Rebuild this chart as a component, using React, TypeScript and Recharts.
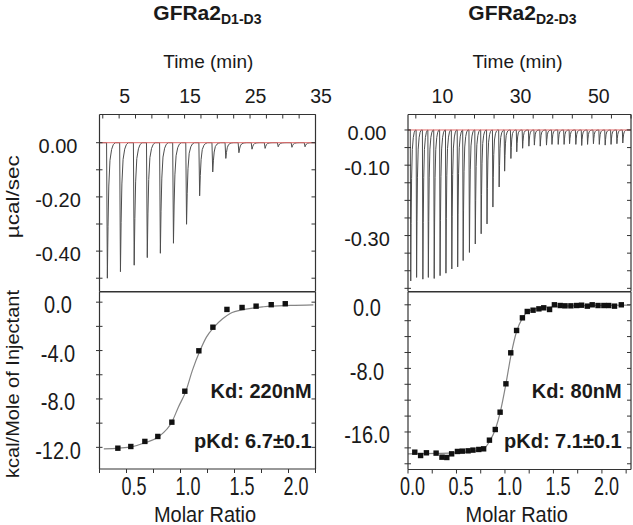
import React from 'react';
import { LineChart, ComposedChart, Line, Scatter, XAxis, YAxis } from 'recharts';

const FONT = '"Liberation Sans", Arial, Helvetica, sans-serif';
const AXIS = '#333';
const INK = '#1a1a1a';

// ---- raw thermograms (time of each spike tip, min / spike depth, µcal/sec)
const leftInjTime = [3.2, 5.2, 7.3, 9.3, 11.3, 13.3, 15.3, 17.3, 19.3, 21.3, 23.3, 25.3, 27.3, 29.3, 31.4, 33.4];
const leftPeak = [-0.5, -0.476, -0.452, -0.424, -0.408, -0.371, -0.301, -0.196, -0.108, -0.058, -0.037, -0.024, -0.021, -0.015, -0.017, -0.015];

const rightInjTime = [
  3.7, 5.2, 6.8, 8.2, 9.7, 11.2, 12.7, 14.2, 15.7, 17.1, 18.7, 20.2, 21.7, 23.2, 24.7, 26.3, 27.7, 29.3, 30.8,
  32.3, 33.9, 35.3, 36.8, 38.4, 39.8, 41.4, 42.9, 44.3, 45.9, 47.4, 48.9, 50.4, 51.9, 53.4, 54.9, 56.4, 57.9,
];
const rightPeak = [
  -0.429, -0.419, -0.424, -0.419, -0.422, -0.414, -0.407, -0.395, -0.389, -0.371, -0.348, -0.324, -0.295,
  -0.267, -0.219, -0.162, -0.117, -0.081, -0.062, -0.052, -0.046, -0.043, -0.046, -0.043, -0.041, -0.041,
  -0.041, -0.039, -0.041, -0.044, -0.041, -0.039, -0.041, -0.043, -0.041, -0.039, -0.037,
];

// shape of one spike: [min after tip, share of tip depth]
const spikeProfile = [[-0.12, 0], [0, 1], [0.1, 0.62], [0.22, 0.32], [0.4, 0.13], [0.65, 0.05], [0.9, 0.015], [1.2, 0]];

// ---- integrated heats (molar ratio / kcal per mole of injectant)
const leftRatio = [0.42, 0.54, 0.67, 0.79, 0.92, 1.04, 1.17, 1.3, 1.43, 1.57, 1.7, 1.84, 1.97];
const leftHeat = [-12.07, -11.93, -11.51, -11.1, -9.92, -7.36, -4.02, -2.07, -0.6, -0.44, -0.33, -0.21, -0.13];
const leftFitRatio = [0.29, 0.43, 0.55, 0.67, 0.8, 0.92, 0.98, 1.05, 1.11, 1.18, 1.24, 1.31, 1.39, 1.46, 1.59, 1.77, 2.02, 2.23];
const leftFitHeat = [-12.12, -12.06, -11.95, -11.62, -11.1, -9.91, -8.68, -7.35, -5.64, -4.02, -2.89, -2.06, -1.37, -0.93, -0.6, -0.38, -0.27, -0.22];

const rightRatio = [
  0.07, 0.13, 0.19, 0.29, 0.35, 0.4, 0.45, 0.51, 0.56, 0.62, 0.67, 0.73, 0.78, 0.84, 0.9, 0.95, 1.01, 1.06, 1.12,
  1.18, 1.23, 1.29, 1.35, 1.4, 1.46, 1.51, 1.57, 1.62, 1.68, 1.74, 1.79, 1.85, 1.9, 1.96, 2.02, 2.07, 2.13, 2.2,
];
const rightHeat = [
  -18.54, -18.96, -18.62, -18.66, -19.17, -19.21, -18.75, -18.45, -18.41, -18.37, -18.28, -18.2, -18.12, -17.03,
  -15.69, -13.51, -9.94, -6.04, -3.23, -1.64, -0.84, -0.68, -0.51, -0.38, -0.59, 0, -0.09, -0.13, -0.13, -0.09,
  -0.05, -0.17, 0, -0.09, -0.09, -0.09, -0.17, 0,
];
const rightFitRatio = [0, 0.3, 0.6, 0.78, 0.84, 0.9, 0.955, 1.01, 1.065, 1.12, 1.18, 1.24, 1.36, 1.57, 1.84, 2.29];
const rightFitHeat = [-18.75, -18.7, -18.54, -18.12, -17.2, -15.69, -13.3, -9.94, -6.17, -3.36, -1.68, -0.84, -0.38, -0.17, -0.09, -0.05];

// ---- axes
const leftTimeDomain = [2, 35];
const leftTimeTicks = [2.5, 5, 7.5, 10, 12.5, 15, 17.5, 20, 22.5, 25, 27.5, 30, 32.5, 35];
const leftTimeLabels = [5, 15, 25, 35];
const rightTimeDomain = [3, 60];
const rightTimeTicks = [5, 10, 15, 20, 25, 30, 35, 40, 45, 50, 55, 60];
const rightTimeLabels = [10, 30, 50];

const leftPowerDomain = [-0.549, 0.104];
const leftPowerTicks = [0, -0.1, -0.2, -0.3, -0.4, -0.5];
const leftPowerLabels = [0, -0.2, -0.4];
const rightPowerDomain = [-0.459, 0.044];
const rightPowerTicks = [0, -0.05, -0.1, -0.15, -0.2, -0.25, -0.3, -0.35, -0.4, -0.45];
const rightPowerLabels = [0, -0.1, -0.3];

const leftHeatDomain = [-13.79, 0.84];
const leftHeatTicks = [0, -2, -4, -6, -8, -10, -12];
const leftHeatLabels = [0, -4, -8, -12];
const rightHeatDomain = [-20.72, 1.61];
const rightHeatTicks = [0, -2, -4, -6, -8, -10, -12, -14, -16, -18, -20];
const rightHeatLabels = [0, -8, -16];

const leftRatioDomain = [0.25, 2.25];
const leftRatioTicks = [0.25, 0.5, 0.75, 1, 1.25, 1.5, 1.75, 2, 2.25];
const leftRatioLabels = [0.5, 1, 1.5, 2];
const rightRatioDomain = [0, 2.3];
const rightRatioTicks = [0, 0.25, 0.5, 0.75, 1, 1.25, 1.5, 1.75, 2, 2.25];
const rightRatioLabels = [0, 0.5, 1, 1.5, 2];

function buildTrace(times: number[], peaks: number[], domain: number[]) {
  const pts = [{ t: domain[0], v: 0 }];
  times.forEach((t0, i) => {
    spikeProfile.forEach(([dt, f]) => pts.push({ t: t0 + dt, v: peaks[i] * f }));
  });
  pts.push({ t: domain[1], v: 0 });
  return pts;
}

const zip = (xs: number[], ys: number[]) => xs.map((x, i) => ({ x, y: ys[i] }));

const leftTrace = buildTrace(leftInjTime, leftPeak, leftTimeDomain);
const rightTrace = buildTrace(rightInjTime, rightPeak, rightTimeDomain);
const leftBase = leftTimeDomain.map((t) => ({ t, v: 0 }));
const rightBase = rightTimeDomain.map((t) => ({ t, v: 0 }));

// ---- tick renderers (tickSize/tickMargin are 0, so x/y sit on the axis line)
const leftTick = (labels: number[], digits: number, off: number, sy: number) => (p: any) => {
  const v = p.payload.value;
  return (
    <g>
      <line x1={p.x - 3.5} x2={p.x + 3} y1={p.y} y2={p.y} stroke={AXIS} />
      {labels.includes(v) && (
        <text
          transform={`translate(${p.x - off},${p.y + 3 + 7.2 * sy}) scale(1,${sy})`}
          textAnchor="middle"
          fontSize={20}
          fontFamily={FONT}
          fill={INK}
        >
          {v.toFixed(digits)}
        </text>
      )}
    </g>
  );
};

const rightTick = (p: any) => <line x1={p.x - 4} x2={p.x} y1={p.y} y2={p.y} stroke={AXIS} />;

const topTick = (labels: number[], dx: number) => (p: any) => {
  const v = p.payload.value;
  return (
    <g>
      <line x1={p.x} x2={p.x} y1={p.y} y2={p.y + 4} stroke={AXIS} />
      {labels.includes(v) && (
        <text x={p.x + dx} y={p.y - 12} textAnchor="middle" fontSize={19.5} fontFamily={FONT} fill={INK}>
          {v}
        </text>
      )}
    </g>
  );
};

const bottomTick = (labels: number[], dx: number) => (p: any) => {
  const v = p.payload.value;
  return (
    <g>
      <line x1={p.x} x2={p.x} y1={p.y} y2={p.y + 4} stroke={AXIS} />
      {labels.includes(v) && (
        <text
          transform={`translate(${p.x + dx},${p.y + 25.5}) scale(1,1.45)`}
          textAnchor="middle"
          fontSize={18}
          fontFamily={FONT}
          fill={INK}
        >
          {v.toFixed(1)}
        </text>
      )}
    </g>
  );
};

const square = (p: any) => <rect x={p.cx - 2.7} y={p.cy - 2.7} width={5.4} height={5.4} fill="#111" />;

const axisLine = { stroke: AXIS, strokeWidth: 1.2 };

function HeatPanel(props: any) {
  const { left, width, yWidth, mRight, trace, base, tDomain, tTicks, tLabels, tDx, pDomain, pTicks, pLabels, labelOff } = props;
  return (
    <div style={{ position: 'absolute', left, top: 80 }}>
      <LineChart width={width} height={214.5} margin={{ top: 0, right: mRight, bottom: 2, left: 0 }}>
        <XAxis xAxisId="t" orientation="top" type="number" dataKey="t" domain={tDomain} allowDataOverflow
          ticks={tTicks} interval={0} height={34.5} tickSize={0} tickMargin={0} tickLine={false}
          axisLine={axisLine} tick={topTick(tLabels, tDx)} />
        <XAxis xAxisId="b" orientation="bottom" type="number" dataKey="t" domain={tDomain} allowDataOverflow
          height={1} tick={false} tickLine={false} axisLine={axisLine} />
        <YAxis yAxisId="l" type="number" domain={pDomain} allowDataOverflow ticks={pTicks} interval={0}
          width={yWidth} tickSize={0} tickMargin={0} tickLine={false} axisLine={axisLine}
          tick={leftTick(pLabels, 2, labelOff, 1)} />
        <YAxis yAxisId="r" orientation="right" type="number" domain={pDomain} allowDataOverflow ticks={pTicks}
          interval={0} width={1} tickSize={0} tickMargin={0} tickLine={false} axisLine={axisLine} tick={rightTick} />
        <Line xAxisId="t" yAxisId="l" data={trace} dataKey="v" type="linear" stroke="#4d4d4d" strokeWidth={1}
          dot={false} isAnimationActive={false} />
        <Line xAxisId="t" yAxisId="l" data={base} dataKey="v" type="linear" stroke="#e26a6a" strokeWidth={1}
          dot={false} isAnimationActive={false} />
      </LineChart>
    </div>
  );
}

function BindingPanel(props: any) {
  const { left, width, height, yWidth, mRight, dots, fit, rDomain, rTicks, rLabels, rDx, hDomain, hTicks, hLabels, labelOff } = props;
  return (
    <div style={{ position: 'absolute', left, top: 285.5 }}>
      <ComposedChart width={width} height={height} margin={{ top: 5, right: mRight, bottom: 0, left: 0 }}>
        <XAxis xAxisId="top" orientation="top" type="number" dataKey="x" domain={rDomain} allowDataOverflow
          height={1} tick={false} tickLine={false} axisLine={axisLine} />
        <XAxis xAxisId="m" orientation="bottom" type="number" dataKey="x" domain={rDomain} allowDataOverflow
          ticks={rTicks} interval={0} height={35} tickSize={0} tickMargin={0} tickLine={false}
          axisLine={axisLine} tick={bottomTick(rLabels, rDx)} />
        <YAxis yAxisId="l" type="number" domain={hDomain} allowDataOverflow ticks={hTicks} interval={0}
          width={yWidth} tickSize={0} tickMargin={0} tickLine={false} axisLine={axisLine}
          tick={leftTick(hLabels, 1, labelOff, 1.15)} />
        <YAxis yAxisId="r" orientation="right" type="number" domain={hDomain} allowDataOverflow ticks={hTicks}
          interval={0} width={1} tickSize={0} tickMargin={0} tickLine={false} axisLine={axisLine} tick={rightTick} />
        <Line xAxisId="m" yAxisId="l" data={fit} dataKey="y" type="monotone" stroke="#858585" strokeWidth={1.2}
          dot={false} isAnimationActive={false} />
        <Scatter xAxisId="m" yAxisId="l" data={dots} dataKey="y" shape={square} isAnimationActive={false} />
      </ComposedChart>
    </div>
  );
}

export default function App() {
  const txt = { fontFamily: FONT, fill: INK };
  return (
    <div style={{ position: 'absolute', left: 0, top: 0, width: 633, height: 525, background: '#fff', overflow: 'hidden' }}>
      <HeatPanel left={0} width={340} yWidth={99.5} mRight={23.5} trace={leftTrace} base={leftBase}
        tDomain={leftTimeDomain} tTicks={leftTimeTicks} tLabels={leftTimeLabels} tDx={5.5}
        pDomain={leftPowerDomain} pTicks={leftPowerTicks} pLabels={leftPowerLabels} labelOff={41.5} />
      <HeatPanel left={310} width={323} yWidth={98} mRight={1} trace={rightTrace} base={rightBase}
        tDomain={rightTimeDomain} tTicks={rightTimeTicks} tLabels={rightTimeLabels} tDx={7}
        pDomain={rightPowerDomain} pTicks={rightPowerTicks} pLabels={rightPowerLabels} labelOff={41} />
      <BindingPanel left={0} width={325} height={218} yWidth={99.5} mRight={8.5}
        dots={zip(leftRatio, leftHeat)} fit={zip(leftFitRatio, leftFitHeat)}
        rDomain={leftRatioDomain} rTicks={leftRatioTicks} rLabels={leftRatioLabels} rDx={7.5}
        hDomain={leftHeatDomain} hTicks={leftHeatTicks} hLabels={leftHeatLabels} labelOff={41.5} />
      <BindingPanel left={310} width={323} height={218.5} yWidth={98} mRight={1}
        dots={zip(rightRatio, rightHeat)} fit={zip(rightFitRatio, rightFitHeat)}
        rDomain={rightRatioDomain} rTicks={rightRatioTicks} rLabels={rightRatioLabels} rDx={4.5}
        hDomain={rightHeatDomain} hTicks={rightHeatTicks} hLabels={rightHeatLabels} labelOff={41} />

      <svg width={633} height={525} style={{ position: 'absolute', left: 0, top: 0, pointerEvents: 'none' }}>
        <text x={153.3} y={20} fontSize={21} fontWeight="bold" {...txt}>
          GFRa2<tspan fontSize={14} dy={4}>D1-D3</tspan>
        </text>
        <text x={468.3} y={20} fontSize={21} fontWeight="bold" {...txt}>
          GFRa2<tspan fontSize={14} dy={4}>D2-D3</tspan>
        </text>
        <text x={208.3} y={68.3} textAnchor="middle" fontSize={19} {...txt}>Time (min)</text>
        <text x={517.5} y={68.3} textAnchor="middle" fontSize={19} {...txt}>Time (min)</text>
        <text transform="translate(18.8,196.7) rotate(-90)" textAnchor="middle" fontSize={19}
          textLength={83} lengthAdjust="spacingAndGlyphs" {...txt}>µcal/sec</text>
        <text transform="translate(18.8,384) rotate(-90)" textAnchor="middle" fontSize={19}
          textLength={188} lengthAdjust="spacingAndGlyphs" {...txt}>kcal/Mole of Injectant</text>
        <text transform="translate(205,521.5) scale(1,1.1)" textAnchor="middle" fontSize={20} {...txt}>Molar Ratio</text>
        <text transform="translate(516.7,521.5) scale(1,1.1)" textAnchor="middle" fontSize={20} {...txt}>Molar Ratio</text>
        <text x={311.7} y={398} textAnchor="end" fontSize={20} fontWeight="bold" {...txt}>Kd: 220nM</text>
        <text x={311.7} y={448} textAnchor="end" fontSize={20} fontWeight="bold" {...txt}>pKd: 6.7±0.1</text>
        <text x={621.7} y={398} textAnchor="end" fontSize={20} fontWeight="bold" {...txt}>Kd: 80nM</text>
        <text x={621.7} y={447.5} textAnchor="end" fontSize={20} fontWeight="bold" {...txt}>pKd: 7.1±0.1</text>
      </svg>
    </div>
  );
}
